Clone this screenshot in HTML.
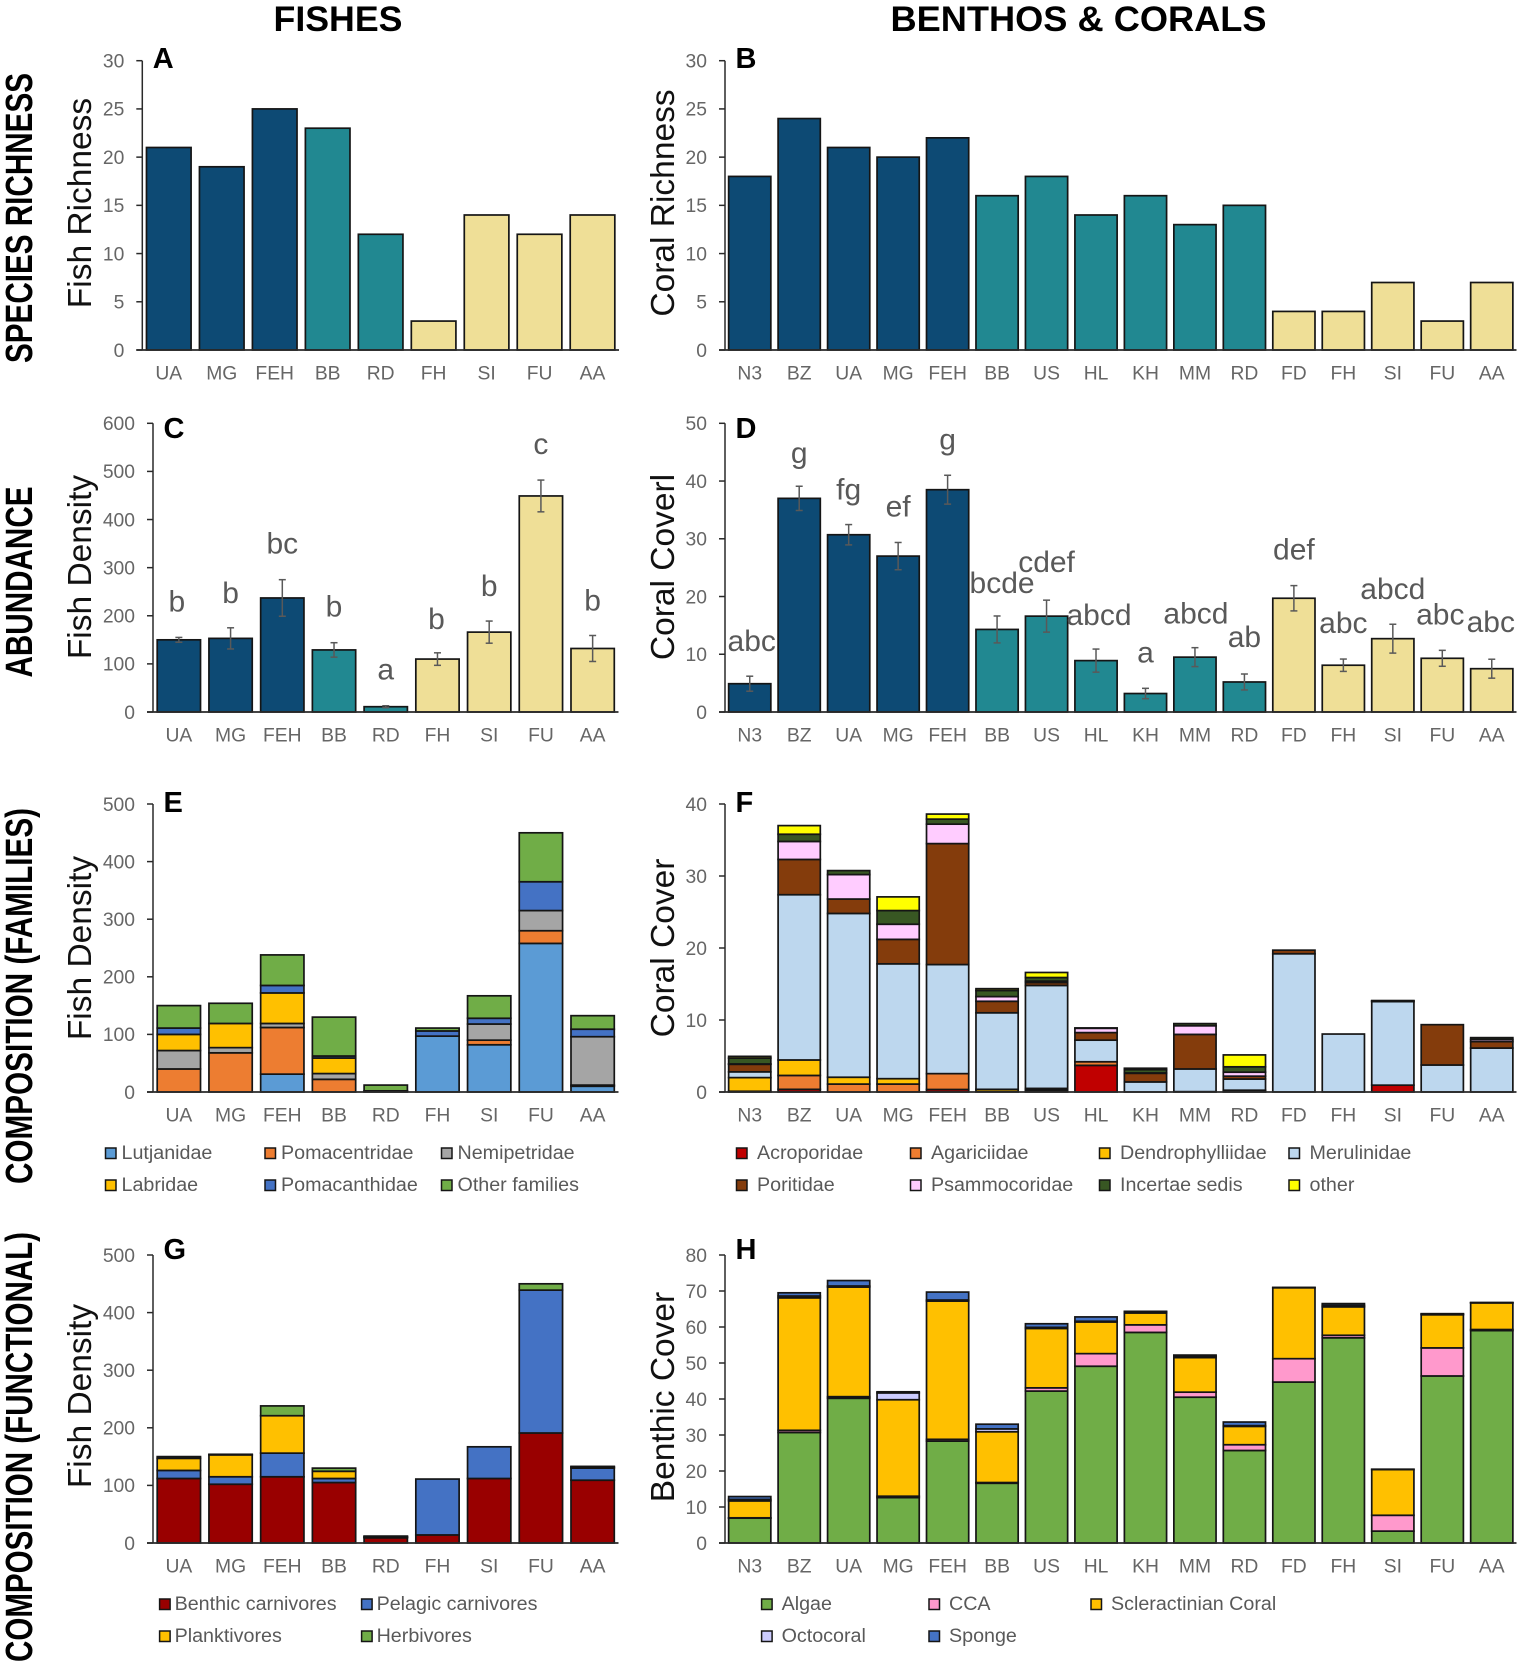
<!DOCTYPE html>
<html lang="en">
<head>
<meta charset="utf-8">
<title>Fishes, Benthos and Corals composition figure</title>
<style>
html,body{margin:0;padding:0;background:#fff;}
svg{display:block;font-family:"Liberation Sans",sans-serif;}
</style>
</head>
<body>
<svg id="figure" xmlns="http://www.w3.org/2000/svg" width="1535" height="1664" viewBox="0 0 1535 1664">
  <rect x="0" y="0" width="1535" height="1664" fill="#ffffff"/>
  <text x="338" y="31" font-size="35" font-weight="bold" text-anchor="middle" textLength="129" lengthAdjust="spacingAndGlyphs" fill="#000">FISHES</text>
  <text x="1078.5" y="31" font-size="35" font-weight="bold" text-anchor="middle" textLength="376" lengthAdjust="spacingAndGlyphs" fill="#000">BENTHOS &amp; CORALS</text>
  <text transform="translate(32 218) rotate(-90)" font-size="38" font-weight="bold" text-anchor="middle" textLength="290" lengthAdjust="spacingAndGlyphs" fill="#000">SPECIES RICHNESS</text>
  <text transform="translate(32 582) rotate(-90)" font-size="38" font-weight="bold" text-anchor="middle" textLength="191" lengthAdjust="spacingAndGlyphs" fill="#000">ABUNDANCE</text>
  <text transform="translate(32 996) rotate(-90)" font-size="38" font-weight="bold" text-anchor="middle" textLength="376" lengthAdjust="spacingAndGlyphs" fill="#000">COMPOSITION (FAMILIES)</text>
  <text transform="translate(32 1447) rotate(-90)" font-size="38" font-weight="bold" text-anchor="middle" textLength="430" lengthAdjust="spacingAndGlyphs" fill="#000">COMPOSITION (FUNCTIONAL)</text>
</svg>
<script>
/* ---------- categories ---------- */
const fishSites = ['UA','MG','FEH','BB','RD','FH','SI','FU','AA'];
const benthicSites = ['N3','BZ','UA','MG','FEH','BB','US','HL','KH','MM','RD','FD','FH','SI','FU','AA'];
const fishZones = ['n','n','n','t','t','k','k','k','k'];
const benthicZones = ['n','n','n','n','n','t','t','t','t','t','t','k','k','k','k','k'];

/* ---------- axis tick labels ---------- */
const ticksRichness = [0,5,10,15,20,25,30];
const ticksFishDensityC = [0,100,200,300,400,500,600];
const ticksCoralCoverD = [0,10,20,30,40,50];
const ticksFishDensity = [0,100,200,300,400,500];
const ticksCoralCoverF = [0,10,20,30,40];
const ticksBenthicCover = [0,10,20,30,40,50,60,70,80];

/* ---------- panels A, B: richness ---------- */
const fishRichness = [21,19,25,23,12,3,14,12,14];
const coralRichness = [18,24,21,20,22,16,18,14,16,13,15,4,4,7,3,7];

/* ---------- panels C, D: abundance ---------- */
const fishDensityMean = [150,153,237,129,11,110,166,449,132];
const fishDensityErr = [5,22,38,15,2,13,23,33,27];
const fishDensityLetters = ['b','b','bc','b','a','b','b','c','b'];
const coralCoverMean = [4.9,37,30.7,27,38.5,14.3,16.6,8.9,3.2,9.5,5.2,19.7,8.1,12.7,9.3,7.5];
const coralCoverErr = [1.3,2.1,1.76,2.36,2.5,2.33,2.77,2,0.9,1.64,1.38,2.19,1.07,2.5,1.38,1.64];
const coralCoverLetters = ['abc','g','fg','ef','g','bcde','cdef','abcd','a','abcd','ab','def','abc','abcd','abc','abc'];

/* ---------- panel E: fish families ---------- */
const lutjanidae    = [0,0,31,0,0,97,82,258,10];
const pomacentridae = [40,68,81,22,1,0,8,22,2];
const nemipetridae  = [32,9,7,10,0,0,28,35,84];
const labridae      = [28,42,53,27,0,0,0,0,0];
const pomacanthidae = [11,0,13,3.5,1,9,10,50,13];
const otherFamilies = [39,35,53,67.5,10,5,39,85,23.5];

/* ---------- panel F: coral families ---------- */
const acroporidae     = [0,0.37,0,0,0.35,0,0.1,3.7,0,0.05,0.05,0,0,0.95,0,0];
const agariciidae     = [0.1,1.93,1.1,1.1,2.2,0.05,0.2,0.5,0,0,0.1,0,0,0,0,0];
const dendrophylliidae= [1.9,2.15,0.95,0.75,0,0.32,0.2,0,0,0,0.1,0,0,0,0,0];
const merulinidae     = [0.8,22.95,22.75,15.95,15.15,10.63,14.3,3,1.4,3.15,1.55,19.2,8.05,11.6,3.75,6.1];
const poritidae       = [1.05,4.9,2,3.4,16.8,1.6,0.4,1.05,1.2,4.8,0.4,0.5,0,0.1,5.6,0.9];
const psammocoridae   = [0.05,2.5,3.4,2.1,2.7,0.65,0.2,0.6,0.05,1.2,0.55,0,0,0,0,0.3];
const incertaeSedis   = [0.8,1,0.55,1.9,0.7,0.85,0.5,0.05,0.45,0.3,0.75,0,0,0.05,0,0.25];
const otherCorals     = [0.25,1.2,0,1.9,0.7,0.25,0.7,0,0.2,0,1.65,0,0,0,0,0];

/* ---------- panel G: fish functional groups ---------- */
const benthicCarnivores = [112,102,115,105,9,14,112,191,109];
const pelagicCarnivores = [14,13,41,7,1,97,55,248,21];
const planktivores      = [21,38,65,12.5,1,0,0,0,2];
const herbivores        = [3,1,17,5.5,1,0,0,11,1];

/* ---------- panel H: benthic cover ---------- */
const algae      = [6.9,30.7,40.2,12.6,28.3,16.6,42.2,49.1,58.5,40.5,25.7,44.7,57,3.3,46.4,59];
const cca        = [0.1,0.6,0.45,0.4,0.5,0.2,0.9,3.5,2.1,1.4,1.6,6.5,0.7,4.4,7.8,0.3];
const scleractinian = [4.7,36.8,30.45,26.8,38.4,14.1,16.5,8.8,3.3,9.6,5.1,19.7,7.9,12.7,9.2,7.4];
const octocoral  = [0.4,0.5,0.3,1.9,0.3,0.8,0.3,0.2,0.3,0.4,0.2,0,0.4,0.1,0.2,0.05];
const sponge     = [0.8,0.9,1.5,0.3,2.2,1.3,1,1.2,0.15,0.3,1,0.1,0.5,0,0.1,0.05];

/* ---------- legend labels ---------- */
const familyNames = ['Lutjanidae','Pomacentridae','Nemipetridae','Labridae','Pomacanthidae','Other families'];
const coralNames = ['Acroporidae','Agariciidae','Dendrophylliidae','Merulinidae','Poritidae','Psammocoridae','Incertae sedis','other'];
const functionalNames = ['Benthic carnivores','Pelagic carnivores','Planktivores','Herbivores'];
const benthicNames = ['Algae','CCA','Scleractinian Coral','Octocoral','Sponge'];

/* ---------- drawing ---------- */
const NS = 'http://www.w3.org/2000/svg';
const figure = document.getElementById('figure');
const zoneColor = {n:'#0D4A74', t:'#218891', k:'#EFDF97'};
const familyColors = ['#5B9BD5','#ED7D31','#A5A5A5','#FFC000','#4472C4','#70AD47'];
const coralColors = ['#C00000','#ED7D31','#FFC000','#BDD7EE','#843C0C','#FFCCFF','#385723','#FFFF00'];
const functionalColors = ['#990000','#4472C4','#FFC000','#70AD47'];
const benthicColors = ['#70AD47','#FF99CC','#FFC000','#CCCCFF','#4472C4'];
const outline = '#151515';

function slug(s){ return String(s).toLowerCase().replace(/[^a-z0-9]+/g,'-'); }

function make(tag, parent, attrs, text){
  const el = document.createElementNS(NS, tag);
  for (const k in attrs) el.setAttribute(k, attrs[k]);
  if (text !== undefined) el.textContent = text;
  parent.appendChild(el);
  return el;
}

function panelScales(p){
  const n = p.sites.length;
  const catW = (p.right - p.left) / n;
  return {
    catW: catW,
    xc: function(i){ return p.left + catW * (i + 0.5); },
    y: function(v){ return p.base - (v / p.max) * (p.base - p.top); }
  };
}

function makePanel(p){
  const g = make('g', figure, {});
  
  
  return g;
}

function drawAxes(g, p, s){
  const lineColor = '#2a2a2a';
  const yAxis = make('line', g, {x1:p.left, x2:p.left, y1:p.top, y2:p.base, stroke:lineColor, 'stroke-width':1.5});
  
  
  const xAxis = make('line', g, {x1:p.left-6, x2:p.right, y1:p.base, y2:p.base, stroke:lineColor, 'stroke-width':1.7});
  
  
  p.ticks.forEach(function(t){
    const yy = s.y(t);
    const tick = make('line', g, {x1:p.left-6, x2:p.left, y1:yy, y2:yy, stroke:lineColor, 'stroke-width':1.5});
    
    
    const lab = make('text', g, {x:p.left-18, y:yy+6.8, 'font-size':19.3, 'text-anchor':'end', fill:'#666666'}, t);
    
    
  });
  p.sites.forEach(function(c, i){
    const lab = make('text', g, {x:s.xc(i), y:p.base+29.5, 'font-size':19.3, 'text-anchor':'middle', fill:'#666666'}, c);
    
    
  });
  const title = make('text', g, {transform:'translate(' + p.titleX + ' ' + p.titleY + ') rotate(-90)', 'font-size':33.5, 'text-anchor':'middle', fill:'#111111'}, p.yTitle);
  
  
  const letter = make('text', g, {x:p.left+10.5, y:p.letterY, 'font-size':29, 'font-weight':'bold', fill:'#000'}, p.letter);
  
  
}

function drawSimpleBars(g, p, s, values, zones){
  values.forEach(function(v, i){
    const yy = s.y(v);
    const bar = make('rect', g, {x:s.xc(i)-p.barW/2, y:yy, width:p.barW, height:p.base-yy, fill:zoneColor[zones[i]], stroke:outline, 'stroke-width':1.7});
    
    
  });
}

function drawErrors(g, p, s, means, errs, letters){
  const nudge = p.letterNudge || {};
  means.forEach(function(m, i){
    const x = s.xc(i), hi = s.y(m + errs[i]), lo = s.y(m - errs[i]);
    const stem = make('line', g, {x1:x, x2:x, y1:hi, y2:lo, stroke:'#595959', 'stroke-width':1.5});
    
    
    [hi, lo].forEach(function(yy){
      const cap = make('line', g, {x1:x-3.5, x2:x+3.5, y1:yy, y2:yy, stroke:'#595959', 'stroke-width':1.5});
      
      
    });
    const n = nudge[p.sites[i]] || [0, 0];
    const t = make('text', g, {x:x+n[0], y:hi-26+n[1], 'font-size':30, 'text-anchor':'middle', fill:'#595959'}, letters[i]);
    
    
  });
}

function drawStacks(g, p, s, seriesList, colors, names){
  p.sites.forEach(function(site, i){
    let acc = 0;
    seriesList.forEach(function(series, k){
      const v = series[i];
      if (v > 0) {
        const y1 = s.y(acc + v), y0 = s.y(acc);
        const seg = make('rect', g, {x:s.xc(i)-p.barW/2, y:y1, width:p.barW, height:y0-y1, fill:colors[k], stroke:outline, 'stroke-width':1.7});
        
        
      }
      acc += v;
    });
  });
}

function drawLegend(g, names, colors, colSwatchX, textGap, rowY, perRow){
  names.forEach(function(name, i){
    const col = i % perRow, row = Math.floor(i / perRow);
    const entry = make('g', g, {});
    
    
    const sw = make('rect', entry, {x:colSwatchX[col], y:rowY[row]-11, width:10.5, height:10.5, fill:colors[i], stroke:outline, 'stroke-width':1.5});
    
    
    const tx = make('text', entry, {x:colSwatchX[col]+textGap, y:rowY[row], 'font-size':19.7, fill:'#595959'}, name);
    
    
  });
}

const leftCol = {sites:fishSites, left:153, right:618.5, barW:43.3, titleX:91};
const rightCol = {sites:benthicSites, left:725, right:1516.5, barW:42.2, titleX:674};

/* Panel A */
(function(){
  const p = Object.assign({}, leftCol, {letter:'A', left:142.3, right:619, barW:44.6, top:60.7, base:350, max:30, ticks:ticksRichness, yTitle:'Fish Richness', titleY:203, letterY:68});
  const s = panelScales(p), g = makePanel(p);
  drawSimpleBars(g, p, s, fishRichness, fishZones);
  drawAxes(g, p, s);
})();
/* Panel B */
(function(){
  const p = Object.assign({}, rightCol, {letter:'B', top:60.7, base:350, max:30, ticks:ticksRichness, yTitle:'Coral Richness', titleY:203, letterY:68});
  const s = panelScales(p), g = makePanel(p);
  drawSimpleBars(g, p, s, coralRichness, benthicZones);
  drawAxes(g, p, s);
})();
/* Panel C */
(function(){
  const p = Object.assign({}, leftCol, {letter:'C', top:423.3, base:712, max:600, ticks:ticksFishDensityC, yTitle:'Fish Density', titleY:567, letterY:438, letterNudge:{UA:[-2,0],MG:[0,1],FH:[-1,2],SI:[0,1],AA:[0,1]}});
  const s = panelScales(p), g = makePanel(p);
  drawSimpleBars(g, p, s, fishDensityMean, fishZones);
  drawAxes(g, p, s);
  drawErrors(g, p, s, fishDensityMean, fishDensityErr, fishDensityLetters);
})();
/* Panel D */
(function(){
  const p = Object.assign({}, rightCol, {letter:'D', top:423.3, base:712, max:50, ticks:ticksCoralCoverD, yTitle:'Coral Coverl', titleY:567, letterY:438, letterNudge:{BZ:[0,3],UA:[0,1],BB:[5,3],US:[0,-2],HL:[3,2],MM:[1,2],N3:[2,1],SI:[0,1],FU:[-2,0],AA:[-1,-1],RD:[0,-1]}});
  const s = panelScales(p), g = makePanel(p);
  drawSimpleBars(g, p, s, coralCoverMean, benthicZones);
  drawAxes(g, p, s);
  drawErrors(g, p, s, coralCoverMean, coralCoverErr, coralCoverLetters);
})();
/* Panel E */
(function(){
  const p = Object.assign({}, leftCol, {letter:'E', top:804, base:1092, max:500, ticks:ticksFishDensity, yTitle:'Fish Density', titleY:948, letterY:812});
  const s = panelScales(p), g = makePanel(p);
  drawStacks(g, p, s, [lutjanidae,pomacentridae,nemipetridae,labridae,pomacanthidae,otherFamilies], familyColors, familyNames);
  drawAxes(g, p, s);
  drawLegend(g, familyNames, familyColors, [105.5,265,441.5], 16, [1159,1191], 3);
})();
/* Panel F */
(function(){
  const p = Object.assign({}, rightCol, {letter:'F', top:804, base:1092, max:40, ticks:ticksCoralCoverF, yTitle:'Coral Cover', titleY:948, letterY:812});
  const s = panelScales(p), g = makePanel(p);
  drawStacks(g, p, s, [acroporidae,agariciidae,dendrophylliidae,merulinidae,poritidae,psammocoridae,incertaeSedis,otherCorals], coralColors, coralNames);
  drawAxes(g, p, s);
  drawLegend(g, coralNames, coralColors, [736.5,910.5,1099.5,1289], 20.5, [1159,1191], 4);
})();
/* Panel G */
(function(){
  const p = Object.assign({}, leftCol, {letter:'G', top:1255, base:1543, max:500, ticks:ticksFishDensity, yTitle:'Fish Density', titleY:1396, letterY:1259});
  const s = panelScales(p), g = makePanel(p);
  drawStacks(g, p, s, [benthicCarnivores,pelagicCarnivores,planktivores,herbivores], functionalColors, functionalNames);
  drawAxes(g, p, s);
  drawLegend(g, functionalNames, functionalColors, [159.6,361.6], 15, [1610,1642], 2);
})();
/* Panel H */
(function(){
  const p = Object.assign({}, rightCol, {letter:'H', top:1255, base:1543, max:80, ticks:ticksBenthicCover, yTitle:'Benthic Cover', titleY:1397, letterY:1259});
  const s = panelScales(p), g = makePanel(p);
  drawStacks(g, p, s, [algae,cca,scleractinian,octocoral,sponge], benthicColors, benthicNames);
  drawAxes(g, p, s);
  drawLegend(g, benthicNames, benthicColors, [761.6,929,1091], 20, [1610,1642], 3);
})();
</script>
</body>
</html>
